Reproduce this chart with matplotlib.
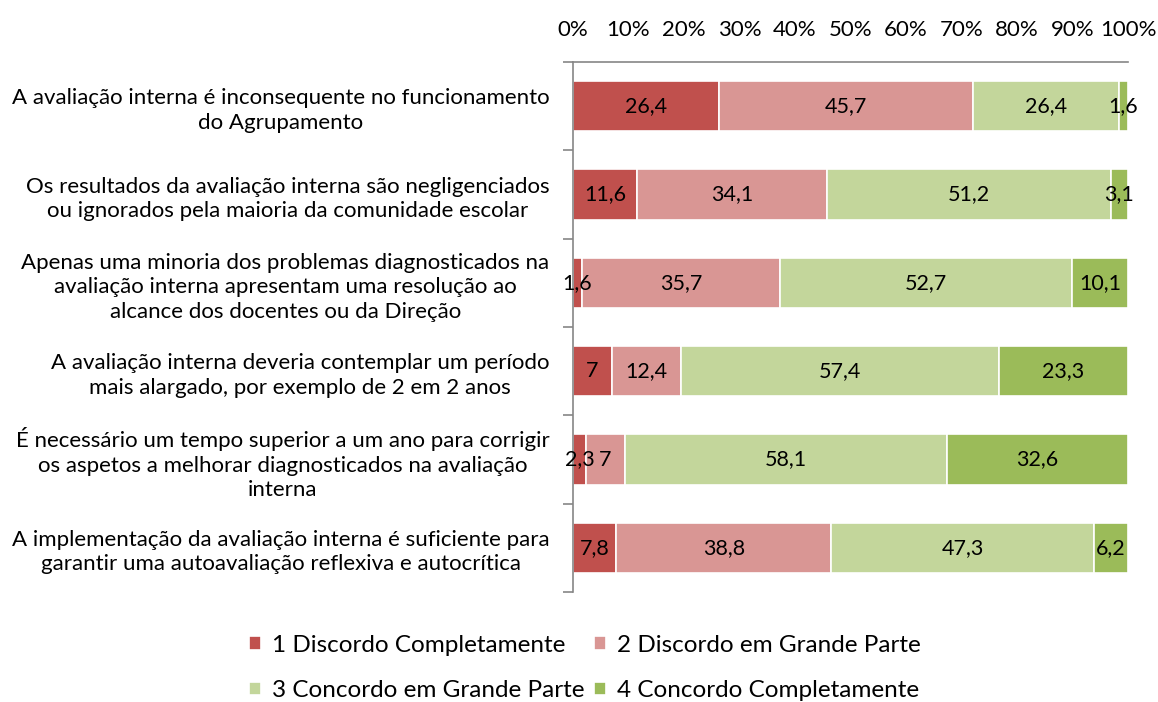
import matplotlib
matplotlib.use("Agg")
import matplotlib.pyplot as plt
import numpy as np

plt.rcParams['font.family'] = ['Lato', 'DejaVu Sans']

categories = [
    "A avaliação interna é inconsequente no funcionamento\ndo Agrupamento",
    "Os resultados da avaliação interna são negligenciados\nou ignorados pela maioria da comunidade escolar",
    "Apenas uma minoria dos problemas diagnosticados na\navaliação interna apresentam uma resolução ao\nalcance dos docentes ou da Direção",
    "A avaliação interna deveria contemplar um período\nmais alargado, por exemplo de 2 em 2 anos",
    "É necessário um tempo superior a um ano para corrigir\nos aspetos a melhorar diagnosticados na avaliação\ninterna",
    "A implementação da avaliação interna é suficiente para\ngarantir uma autoavaliação reflexiva e autocrítica",
]
series_names = [
    "1 Discordo Completamente",
    "2 Discordo em Grande Parte",
    "3 Concordo em Grande Parte",
    "4 Concordo Completamente",
]
s1 = [26.4, 11.6, 1.6, 7, 2.3, 7.8]
s2 = [45.7, 34.1, 35.7, 12.4, 7, 38.8]
s3 = [26.4, 51.2, 52.7, 57.4, 58.1, 47.3]
s4 = [1.6, 3.1, 10.1, 23.3, 32.6, 6.2]
colors = ["#C0504D", "#D99694", "#C3D69B", "#9BBB59"]

data = np.array([s1, s2, s3, s4], dtype=float)
totals = data.sum(axis=0)
pct = data / totals * 100

fig = plt.figure(figsize=(11.58, 7.02), dpi=100)
ax = fig.add_axes([573/1158, 1-592/702, (1128-573)/1158, (592-62)/702])

y = np.arange(len(categories))
left = np.zeros(len(categories))
handles = []
for i in range(4):
    b = ax.barh(y, pct[i], left=left, height=0.57, color=colors[i],
                edgecolor='white', linewidth=1.2, label=series_names[i])
    handles.append(b)
    for j in range(len(categories)):
        val = data[i][j]
        txt = f"{val:g}".replace('.', ',')
        ax.text(left[j] + pct[i][j]/2, y[j], txt, ha='center', va='center',
                fontsize=15.5, color='black')
    left += pct[i]

ax.set_xlim(0, 100)
ax.set_ylim(len(categories)-0.5, -0.5)
ax.xaxis.tick_top()
ax.set_xticks(np.arange(0, 101, 10))
ax.set_xticklabels([f"{v}%" for v in range(0, 101, 10)], fontsize=16)
ax.tick_params(axis='x', length=0, pad=16)
ax.set_yticks(y)
ax.set_yticklabels(categories, fontsize=16)
for t in ax.get_yticklabels():
    t.set_multialignment('center')
    t.set_linespacing(1.28)
ax.tick_params(axis='y', which='major', length=0, pad=17)
ax.set_yticks(np.arange(-0.5, len(categories)), minor=True)
ax.tick_params(axis='y', which='minor', length=7, color='#868686', width=1.2)

for s in ['right', 'bottom']:
    ax.spines[s].set_visible(False)
for s in ['top', 'left']:
    ax.spines[s].set_color('#868686')
    ax.spines[s].set_linewidth(1.2)

order = [0, 2, 1, 3]
fig.legend([handles[k] for k in order], [series_names[k] for k in order],
           loc='lower center', bbox_to_anchor=(0.505, -0.03), ncol=2,
           frameon=False, fontsize=17.5, handlelength=0.5, handleheight=0.5,
           handletextpad=0.45, columnspacing=0.4, labelspacing=1.0)

fig.savefig("out.png", dpi=100)
